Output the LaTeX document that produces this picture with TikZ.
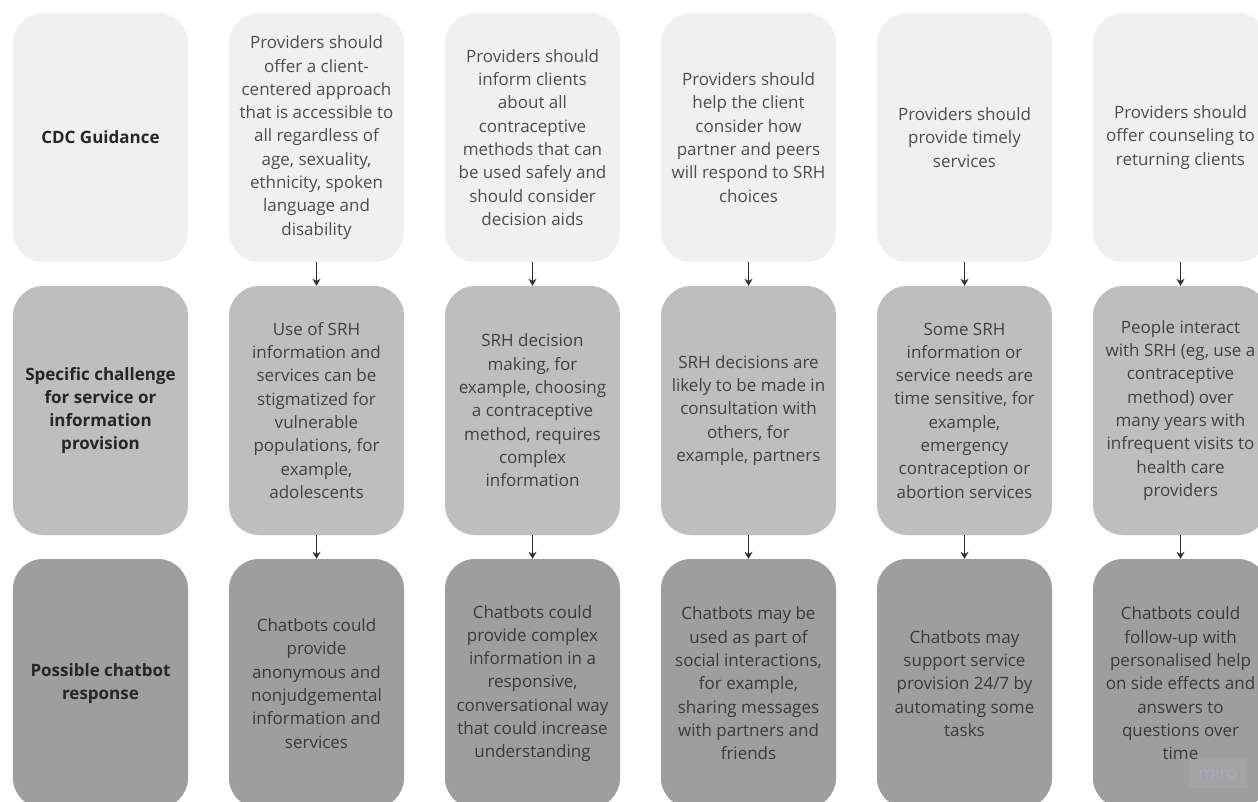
\documentclass[tikz,border=0pt]{standalone}
\usepackage{fontspec}
\setmainfont{Open Sans}
\usetikzlibrary{arrows.meta}
\definecolor{rowA}{HTML}{F0F0F0}
\definecolor{rowB}{HTML}{BEBEBE}
\definecolor{rowC}{HTML}{9E9E9E}
\definecolor{txtA}{HTML}{4D4D4D}
\definecolor{txtB}{HTML}{414141}
\definecolor{txtC}{HTML}{3A3A3A}
\definecolor{hdr}{HTML}{262626}
\definecolor{arrcol}{HTML}{2E2E2E}
\definecolor{wmtxt}{HTML}{ABA9BE}
\begin{document}
\begin{tikzpicture}[x=1bp,y=-1bp,
  cell/.style={rectangle, rounded corners=30bp, minimum width=175bp, minimum height=249bp,
    inner sep=0pt, align=center, font=\fontsize{17bp}{23.3bp}\selectfont},
  ra/.style={cell, fill=rowA, text=txtA},
  rb/.style={cell, fill=rowB, text=txtB},
  rc/.style={cell, fill=rowC, text=txtC},
  hd/.style={font=\fontsize{17bp}{23.3bp}\selectfont\bfseries, text=hdr},
  arr/.style={arrcol, line width=1.5bp, -{Stealth[length=7bp,width=8bp]}}
]
\useasboundingbox (0,0) rectangle (1258,802);
\clip (0,0) rectangle (1258,802);
\fill[white] (0,0) rectangle (1258,802);

% row 1
\node[ra, hd] (h1) at (100.5,137.5) {CDC Guidance};
\node[ra] (a1) at (316.5,137.5) {Providers should\\offer a client-\\centered approach\\that is accessible to\\all regardless of\\age, sexuality,\\ethnicity, spoken\\language and\\disability};
\node[ra] (a2) at (532.5,137.5) {Providers should\\inform clients\\about all\\contraceptive\\methods that can\\be used safely and\\should consider\\decision aids};
\node[ra] (a3) at (748.5,137.5) {Providers should\\help the client\\consider how\\partner and peers\\will respond to SRH\\choices};
\node[ra] (a4) at (964.5,137.5) {Providers should\\provide timely\\services};
\node[ra] (a5) at (1180.5,137.5) {Providers should\\offer counseling to\\returning clients};

% row 2
\node[rb, hd] (h2) at (100.5,410.5) {Specific challenge\\for service or\\information\\provision};
\node[rb] (b1) at (316.5,410.5) {Use of SRH\\information and\\services can be\\stigmatized for\\vulnerable\\populations, for\\example,\\adolescents};
\node[rb] (b2) at (532.5,410.5) {SRH decision\\making, for\\example, choosing\\a contraceptive\\method, requires\\complex\\information};
\node[rb] (b3) at (748.5,410.5) {SRH decisions are\\likely to be made in\\consultation with\\others, for\\example, partners};
\node[rb] (b4) at (964.5,410.5) {Some SRH\\information or\\service needs are\\time sensitive, for\\example,\\emergency\\contraception or\\abortion services};
\node[rb] (b5) at (1180.5,410.5) {People interact\\with SRH (eg, use a\\contraceptive\\method) over\\many years with\\infrequent visits to\\health care\\providers};

% row 3
\node[rc, hd] (h3) at (100.5,683.5) {Possible chatbot\\response};
\node[rc] (c1) at (316.5,683.5) {Chatbots could\\provide\\anonymous and\\nonjudgemental\\information and\\services};
\node[rc] (c2) at (532.5,683.5) {Chatbots could\\provide complex\\information in a\\responsive,\\conversational way\\that could increase\\understanding};
\node[rc] (c3) at (748.5,683.5) {Chatbots may be\\used as part of\\social interactions,\\for example,\\sharing messages\\with partners and\\friends};
\node[rc] (c4) at (964.5,683.5) {Chatbots may\\support service\\provision 24/7 by\\automating some\\tasks};
\node[rc] (c5) at (1180.5,683.5) {Chatbots could\\follow-up with\\personalised help\\on side effects and\\answers to\\questions over\\time};

% arrows
\foreach \i in {1,...,5}{
  \draw[arr] (a\i.south) -- (b\i.north);
  \draw[arr] (b\i.south) -- (c\i.north);
}

% watermark
\node[fill=white, fill opacity=0.06, text opacity=1, text=wmtxt, minimum width=58bp, minimum height=30bp,
  inner sep=0pt, font=\fontsize{18bp}{20bp}\selectfont] (wm) at (1218,773) {miro};
\end{tikzpicture}
\end{document}
